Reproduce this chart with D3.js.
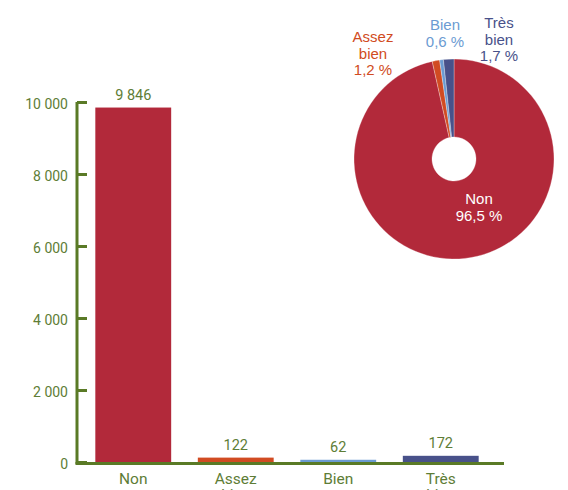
<!DOCTYPE html>
<html><head><meta charset="utf-8">
<script src="https://cdn.jsdelivr.net/npm/d3@7"></script>
<style>body{margin:0;background:#fff}svg{display:block}</style>
</head><body>
<svg id="c" width="568" height="490"></svg>
<script>
const categories = ["Non", "Assez bien", "Bien", "Très bien"];
const values = [9846, 122, 62, 172];
const percentLabels = ["96,5 %", "1,2 %", "0,6 %", "1,7 %"];
const yTicks = [0, 2000, 4000, 6000, 8000, 10000];
const colors = ["#b2293a", "#d14b22", "#6b9bd2", "#48518a"];

const green = "#5a7a26";
const textGreen = "#5e7d36";
const svg = d3.select("#c");
const loc = d3.formatLocale({decimal: ",", thousands: " ", grouping: [3], currency: ["", " €"]});
const fmt = loc.format(",d");

const y = d3.scaleLinear().domain([0, 10000]).range([462, 102]);
const x = d3.scaleBand().domain(categories).range([82, 492]).paddingInner(0.26).paddingOuter(0.13);

// bars
svg.selectAll("rect.bar").data(values).join("rect")
  .attr("x", (d, i) => x(categories[i]))
  .attr("width", x.bandwidth())
  .attr("y", d => y(d))
  .attr("height", d => y(0) - y(d))
  .attr("fill", (d, i) => colors[i]);

svg.selectAll("text.val").data(values).join("text")
  .attr("x", (d, i) => x(categories[i]) + x.bandwidth() / 2)
  .attr("y", d => y(d) - 8)
  .attr("text-anchor", "middle")
  .attr("font-family", "Roboto, sans-serif")
  .attr("font-size", 14.5)
  .attr("fill", textGreen)
  .text(d => fmt(d));

// y axis
const yAxis = d3.axisLeft(y).tickValues(yTicks).tickFormat(fmt).tickSizeInner(-10).tickSizeOuter(0).tickPadding(9);
const gy = svg.append("g").attr("transform", "translate(77,0)").call(yAxis);
gy.select(".domain").attr("d", "M0,102V464").attr("stroke", green).attr("stroke-width", 3);
gy.selectAll(".tick line").attr("stroke", green).attr("stroke-width", 3);
gy.selectAll(".tick text").attr("fill", textGreen).attr("font-family", "Roboto, sans-serif").attr("font-size", 14)
  .attr("x", -9).attr("dy", "0.45em");

// x axis
const xAxis = d3.axisBottom(x).tickSize(0).tickPadding(0).tickFormat("");
const gx = svg.append("g").attr("transform", "translate(0,463.5)").call(xAxis);
gx.select(".domain").attr("d", "M75.5,0H504").attr("stroke", green).attr("stroke-width", 3);
gx.selectAll(".tick").each(function(d) {
  const t = d3.select(this).append("text")
    .attr("text-anchor", "middle")
    .attr("font-family", "Roboto, sans-serif")
    .attr("font-size", 15.5)
    .attr("fill", textGreen);
  d.split(" ").forEach((w, i) => {
    t.append("tspan").attr("x", 0).attr("y", 20.5 + i * 16).text(w);
  });
});

// donut
const cx = 454, cy = 159, R = 100, r0 = 22;
const pie = d3.pie().sort(null).value(d => d);
const arcs = pie(values);
const arc = d3.arc().innerRadius(r0).outerRadius(R);
const gp = svg.append("g").attr("transform", `translate(${cx},${cy})`);
gp.selectAll("path").data(arcs).join("path")
  .attr("d", arc)
  .attr("fill", (d, i) => colors[i])
  .attr("stroke", "#fff").attr("stroke-width", 0.3);

const pieLabels = [
  {lines: ["Non", percentLabels[0]], x: 479, y: 204, color: "#ffffff"},
  {lines: ["Assez", "bien", percentLabels[1]], x: 373, y: 42, color: colors[1]},
  {lines: ["Bien", percentLabels[2]], x: 445, y: 30, color: colors[2]},
  {lines: ["Très", "bien", percentLabels[3]], x: 499, y: 28, color: colors[3]}
];
pieLabels.forEach(l => {
  const t = svg.append("text").attr("text-anchor", "middle")
    .attr("font-family", "'Liberation Sans', Arial, sans-serif")
    .attr("font-size", 15).attr("fill", l.color);
  l.lines.forEach((w, i) => t.append("tspan").attr("x", l.x).attr("y", l.y + i * 16.5).text(w));
});
</script>
</body></html>
